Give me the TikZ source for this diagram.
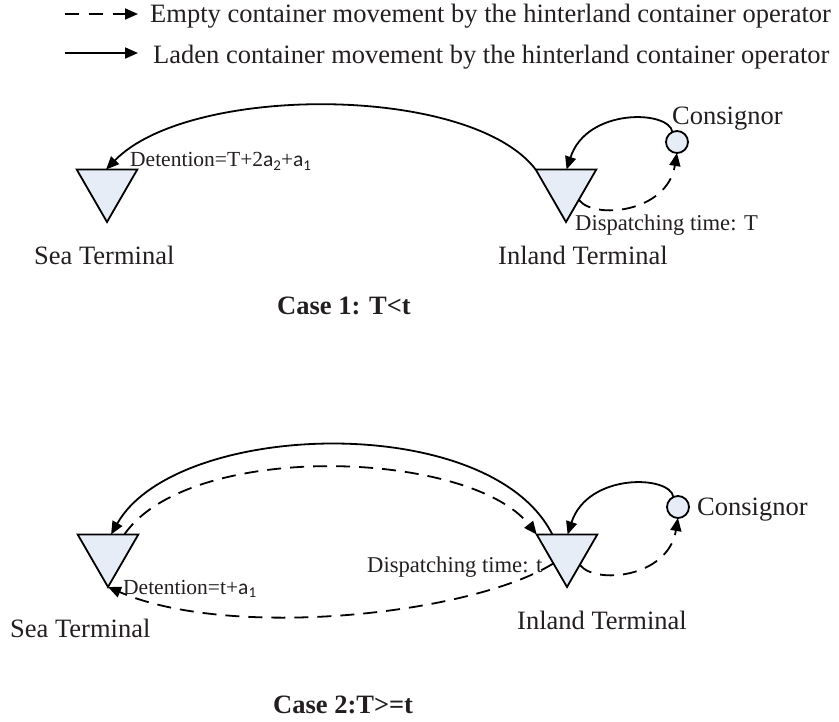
\documentclass[tikz,border=0pt]{standalone}
\usepackage{fontspec}
\setmainfont{Liberation Serif}
\newfontfamily\calib{Carlito}
\usetikzlibrary{shapes.geometric,arrows.meta}
\definecolor{txt}{RGB}{35,31,32}
\definecolor{tfill}{RGB}{230,237,247}
\newcommand\sa[1]{{\calib a}\raisebox{-0.18em}{\calib\fontsize{15}{15}\selectfont #1}}
\begin{document}
\begin{tikzpicture}[x=1pt,y=-1pt,
  term/.style={regular polygon, regular polygon sides=3, shape border rotate=180, minimum size=70pt, inner sep=0pt, outer sep=0pt, draw=black, line width=1.8pt, fill=tfill},
  cons/.style={circle, minimum size=22pt, inner sep=0pt, outer sep=0pt, draw=black, line width=1.8pt, fill=tfill},
  big/.style={font=\fontsize{26.5}{30}\selectfont, text=txt, inner sep=0pt, anchor=base west},
  small/.style={font=\fontsize{22.6}{26}\selectfont, text=txt, inner sep=0pt, anchor=base west},
  detf/.style={font=\fontsize{21.5}{26}\selectfont, text=txt, inner sep=0pt, anchor=base west},
  casefont/.style={font=\fontsize{26.5}{30}\selectfont\bfseries, text=txt, inner sep=0pt, anchor=base west},
  laden/.style={line width=1.8pt, -{Triangle[length=13pt,width=11pt]}},
  empty/.style={laden, dash pattern=on 14pt off 9pt},
]
\useasboundingbox (0,0) rectangle (839,722);

% legend
\coordinate (le1) at (65,14); \coordinate (le2) at (138,14);
\draw[laden, dash pattern=on 14pt off 10pt] (le1) -- (le2);
\node[big] (lt1) at (150,22.5) {Empty container movement by the hinterland container operator};
\coordinate (ll1) at (65,53); \coordinate (ll2) at (138,53);
\draw[laden] (ll1) -- (ll2);
\node[big] (lt2) at (153,64) {Laden container movement by the hinterland container operator};

% case 1
\node[term] (sea1) at (107,187) {};
\node[term] (inl1) at (566,187) {};
\node[cons] (con1) at (677,142) {};
\draw[laden] (inl1.150) .. controls (470,84) and (189,84) .. (sea1.93);
\draw[laden] (con1.115) .. controls +(-3,-22) and +(20,-62) .. (inl1.88);
\draw[empty] (inl1.-45) .. controls +(15,20) and +(-10,60) .. (con1.-90);
\node[detf] (det1) at (130,167) {Detention=T+2\sa{2}+\sa{1}};
\node[small] (dis1) at (575,231) {Dispatching time: T};
\node[big] (sl1) at (34,265) {Sea Terminal};
\node[big] (il1) at (498,265) {Inland Terminal};
\node[big] (cl1) at (672,125) {Consignor};
\node[casefont] (c1) at (277,315) {Case 1: T<t};

% case 2
\node[term] (sea2) at (108,552) {};
\node[term] (inl2) at (567,552) {};
\node[cons] (con2) at (678,507) {};
\draw[laden] (inl2.130) .. controls (490,410) and (176,420) .. (sea2.80);
\draw[empty] (sea2.47) .. controls (190,440) and (470,450) .. (inl2.150);
\draw[empty] (inl2.220) .. controls (470,615) and (230,640) .. (sea2.-90);
\draw[laden] (con2.115) .. controls +(-3,-22) and +(20,-62) .. (inl2.88);
\draw[empty] (inl2.-45) .. controls +(15,20) and +(-10,60) .. (con2.-90);
\node[detf] (det2) at (123,594) {Detention=t+\sa{1}};
\node[small] (dis2) at (367,572) {Dispatching time: t};
\node[big] (sl2) at (10,637) {Sea Terminal};
\node[big] (il2) at (517,629) {Inland Terminal};
\node[big] (cl2) at (697,515) {Consignor};
\node[casefont] (c2) at (273,713) {Case 2:T>=t};
\end{tikzpicture}
\end{document}
